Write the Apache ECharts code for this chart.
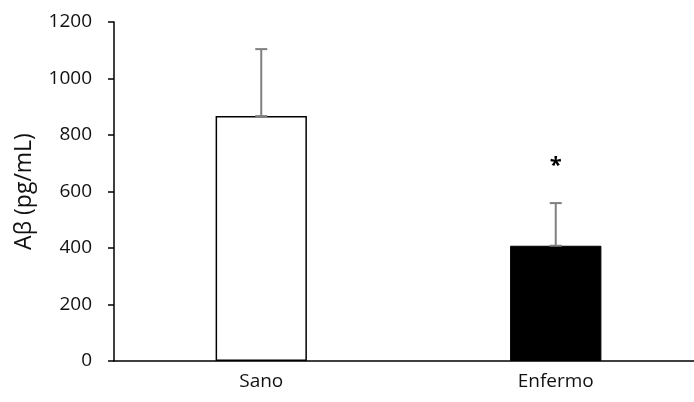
<!DOCTYPE html>
<html>
<head>
<meta charset="utf-8">
<script src="https://cdn.jsdelivr.net/npm/echarts@6/dist/echarts.min.js"></script>
<style>html,body{margin:0;padding:0;background:#fff;overflow:hidden;}#c{width:703px;height:402px;}</style>
</head>
<body>
<div id="c"></div>
<script>
const categories = ['Sano', 'Enfermo'];
const means = [867, 408];
const upperErrors = [1104, 559];
const significance = ['', '*'];
const yTicks = { min: 0, max: 1200, interval: 200 };

const chart = echarts.init(document.getElementById('c'));
const font = '"Open Sans", "DejaVu Sans", sans-serif';
chart.setOption({
  animation: false,
  grid: { left: 114, top: 22, right: 0, bottom: 41, containLabel: false },
  xAxis: {
    type: 'category',
    data: categories,
    axisLine: { lineStyle: { color: '#000', width: 1.5 } },
    axisTick: { show: false },
    axisLabel: { color: '#111', fontFamily: font, fontSize: 19, margin: 11 }
  },
  yAxis: {
    type: 'value',
    min: yTicks.min, max: yTicks.max, interval: yTicks.interval,
    name: 'Aβ (pg/mL)',
    nameLocation: 'middle',
    nameGap: 78,
    nameTextStyle: { color: '#111', fontFamily: font, fontSize: 23 },
    axisLine: { show: true, lineStyle: { color: '#000', width: 1.5 } },
    axisTick: { show: true, length: 6, lineStyle: { color: '#000', width: 1.5 } },
    splitLine: { show: false },
    axisLabel: { color: '#111', fontFamily: font, fontSize: 19, margin: 22, formatter: v => String(v) }
  },
  series: [
    {
      type: 'bar',
      barWidth: '31%',
      data: means.map((v, i) => ({
        value: v,
        itemStyle: i === 0
          ? { color: '#ffffff', borderColor: '#000', borderWidth: 1.5 }
          : { color: '#000000', borderColor: '#000', borderWidth: 1 }
      }))
    },
    {
      type: 'custom',
      data: categories.map((c, i) => [i, means[i], upperErrors[i]]),
      renderItem: function (params, api) {
        const i = api.value(0);
        const lo = api.coord([i, api.value(1)]);
        const hi = api.coord([i, api.value(2)]);
        const cap = 6;
        const style = { stroke: '#7f7f7f', lineWidth: 2 };
        const children = [
          { type: 'line', shape: { x1: hi[0], y1: lo[1], x2: hi[0], y2: hi[1] }, style },
          { type: 'line', shape: { x1: hi[0] - cap, y1: hi[1], x2: hi[0] + cap, y2: hi[1] }, style },
          { type: 'line', shape: { x1: lo[0] - cap, y1: lo[1], x2: lo[0] + cap, y2: lo[1] }, style }
        ];
        const s = significance[i];
        if (s) {
          children.push({
            type: 'text',
            style: {
              x: hi[0], y: hi[1] - 37, text: s,
              fill: '#000', font: 'bold 22px ' + font,
              align: 'center', verticalAlign: 'middle'
            }
          });
        }
        return { type: 'group', children };
      },
      z: 5
    }
  ]
});
</script>
</body>
</html>
